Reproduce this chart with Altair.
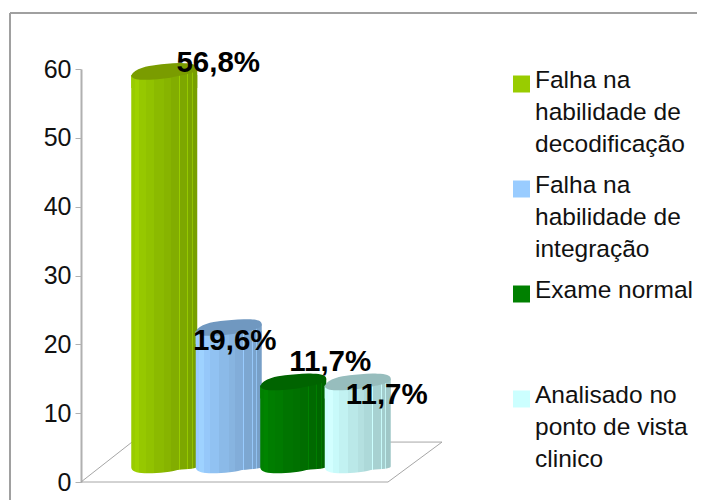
import altair as alt
import pandas as pd

categories = ["Falha na|habilidade de|decodificação", "Falha na|habilidade de|integração",
              "Exame normal", "Analisado no|ponto de vista|clinico"]
values = [56.8, 19.6, 11.7, 11.7]
labels = ["56,8%", "19,6%", "11,7%", "11,7%"]
swatches = ["#99cc00", "#99ccff", "#008000", "#ccffff"]
tops = ["#7a9c00", "#7098c0", "#006400", "#97bdbd"]
label_shift = [(54, -3), (6, 19), (37, -14.5), (29, 18.5)]
y_ticks = [0, 10, 20, 30, 40, 50, 60]

# Floor of the 3-D box: x on the picture's width, depth in axis units
floor_x = [81, 388, 132, 81]
floor_x2 = [388, 442, 442, 132]
floor_y = [0, 0, 5.8, 0]
floor_y2 = [0, 5.8, 5.8, 5.8]

FONT = "Liberation Sans"
W, H = 616, 413
stripes = [(0.05, 1.00), (0.12, 1.03), (0.22, 0.98), (0.35, 0.95), (0.50, 0.91), (0.60, 0.88),
           (0.72, 0.85), (0.735, 1.0), (0.85, 0.82), (0.865, 0.98), (0.92, 0.80), (0.935, 0.95), (1.0, 0.78)]


def shade(hex_col, k):
    rgb = [int(hex_col[i:i + 2], 16) for i in (1, 3, 5)]
    return "#" + "".join(f"{min(255, int(round(c * k))):02x}" for c in rgb)


def gradient(col):
    stops, prev = [], 0.0
    for end, k in stripes:
        c = shade(col, k)
        stops += [alt.GradientStop(offset=prev, color=c), alt.GradientStop(offset=end, color=c)]
        prev = end
    return alt.LinearGradient(gradient="linear", x1=0, x2=1, y1=0, y2=0, stops=stops)


LUMP = ("M-1,0.12 C-0.9,-0.1 -0.5,-0.17 -0.25,-0.2 C0,-0.22 0.3,-0.27 0.6,-0.25 "
        "C0.85,-0.25 1,-0.2 1,-0.1 C1,0.05 0.6,0.1 0.3,0.16 C0,0.24 -0.4,0.25 -0.65,0.25 "
        "C-0.85,0.25 -1,0.2 -1,0.12 Z")
FOOT = ("M-1,0 L1,0 L1,0.02 C1,0.08 0.75,0.1 0.4,0.12 C0.1,0.2 -0.3,0.22 -0.6,0.22 "
        "C-0.85,0.22 -1,0.15 -1,0.04 Z")
WEDGE = "M-1,0.12 L1,-0.1 L1,0.5 L-1,0.5 Z"

df = pd.DataFrame({"cat": categories, "value": values, "label": labels, "base": [0] * 4})
floor = pd.DataFrame({"x": floor_x, "x2": floor_x2, "y": floor_y, "y2": floor_y2})

xb = alt.X("cat:N", axis=None, sort=None,
           scale=alt.Scale(type="band", domain=categories, range=[51, 309], paddingInner=0, paddingOuter=0))
bar_scale = alt.Scale(domain=[-2.33, 57.67], range=[H, 0])
y_val = alt.Y("value:Q", axis=None, scale=bar_scale)
y_base = alt.Y("base:Q", axis=None, scale=bar_scale)

frame = [
    alt.Chart(df.head(1)).mark_rule(color="#a0a0a0", strokeWidth=2).encode(
        x=alt.value(-71), x2=alt.value(W), y=alt.value(-56)),
    alt.Chart(df.head(1)).mark_rule(color="#a0a0a0", strokeWidth=2).encode(
        x=alt.value(-71), y=alt.value(-56), y2=alt.value(H + 18)),
]

floor_layer = alt.Chart(floor).mark_rule(color="#a6a6a6", strokeWidth=1).encode(
    x=alt.X("x:Q", axis=None, scale=alt.Scale(domain=[81, 81 + W], range=[0, W])),
    x2="x2:Q",
    y=alt.Y("y:Q", scale=alt.Scale(domain=[0, 60], range=[H, 0]),
            axis=alt.Axis(values=y_ticks, title=None, grid=False, domainColor="#b0b0b0", domainWidth=2,
                          tickColor="#b0b0b0", tickWidth=1, tickSize=6, labelFontSize=25, labelFont=FONT,
                          labelColor="#111111", labelPadding=4)),
    y2="y2:Q",
)

layers = frame + [floor_layer]
for i, cat in enumerate(categories):
    d = df.iloc[[i]]
    g = gradient(swatches[i])
    base = alt.Chart(d)
    layers += [
        base.mark_point(shape=FOOT, size=66 ** 2, fill=g, filled=True, opacity=1, strokeWidth=0).encode(x=xb, y=y_base),
        base.mark_bar(width=66, color=g).encode(x=xb, y=y_val, y2="base:Q"),
        base.mark_point(shape=WEDGE, size=66 ** 2, fill=g, filled=True, opacity=1, strokeWidth=0, yOffset=-3.5).encode(x=xb, y=y_val),
        base.mark_point(shape=LUMP, size=66 ** 2, fill=tops[i], filled=True, opacity=1, strokeWidth=0, yOffset=-3.5).encode(x=xb, y=y_val),
    ]
for i, cat in enumerate(categories):
    d = df.iloc[[i]]
    dx, dy = label_shift[i]
    layers.append(alt.Chart(d).mark_text(font=FONT, fontSize=29.5, fontWeight="bold", color="#000000",
                                         dx=dx, dy=dy, baseline="alphabetic").encode(
        x=xb, y=y_val, text="label:N"))

legend_y = alt.Y("cat:N", axis=None, sort=None,
                 scale=alt.Scale(type="point", domain=categories, range=[-0.5, 314.5], padding=0))
layers += [
    alt.Chart(df).mark_square(size=289, opacity=1, yOffset=15.5).encode(
        x=alt.value(440.5), y=legend_y,
        color=alt.Color("cat:N", legend=None, sort=None, scale=alt.Scale(domain=categories, range=swatches))),
    alt.Chart(df).mark_text(font=FONT, fontSize=24.5, lineHeight=32, lineBreak="|", align="left", baseline="top",
                            color="#111111").encode(
        x=alt.value(454), y=legend_y, text="cat:N"),
]

chart = alt.layer(*layers).resolve_scale(x="independent", y="independent", color="independent").properties(
    width=W, height=H, background="white",
    padding={"left": 73, "top": 61, "right": 0, "bottom": 18},
    autosize=alt.AutoSizeParams(type="none"),
).configure_view(stroke=None)

chart.save("out.html", embed_options={"renderer": "svg", "actions": False})
